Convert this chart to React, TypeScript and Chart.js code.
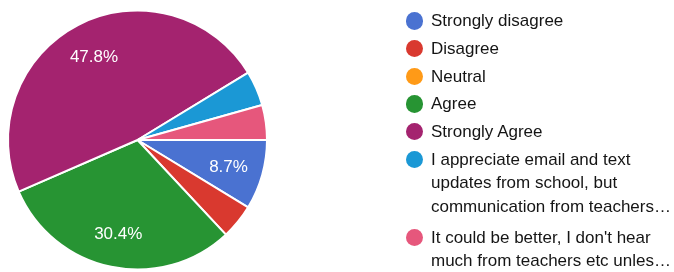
import React, { useEffect, useRef } from "react";
import { Chart, registerables } from "chart.js";

Chart.register(...registerables);

const categories: string[][] = [
  ["Strongly disagree"],
  ["Disagree"],
  ["Neutral"],
  ["Agree"],
  ["Strongly Agree"],
  ["I appreciate email and text", "updates from school, but", "communication from teachers…"],
  ["It could be better, I don't hear", "much from teachers etc unles…"],
];
const responses: number[] = [2, 1, 0, 7, 11, 1, 1];
const sliceColors: string[] = ["#4a72d1", "#d9392f", "#ff9a17", "#279433", "#a4236f", "#1b98d5", "#e6577c"];

const FONT = '"Liberation Sans", Arial, sans-serif';

const sliceLabelPlugin = {
  id: "sliceLabels",
  afterDatasetsDraw(chart: any) {
    const meta = chart.getDatasetMeta(0);
    const data = chart.data.datasets[0].data as number[];
    const total = data.reduce((a, b) => a + b, 0);
    const ctx = chart.ctx;
    ctx.save();
    ctx.fillStyle = "#ffffff";
    ctx.font = `17px ${FONT}`;
    ctx.textAlign = "center";
    ctx.textBaseline = "alphabetic";
    meta.data.forEach((arc: any, i: number) => {
      const frac = data[i] / total;
      if (frac < 0.05) return;
      const p = arc.getProps(["x", "y", "startAngle", "endAngle", "outerRadius"], true);
      const mid = (p.startAngle + p.endAngle) / 2;
      const r = p.outerRadius * 0.73;
      ctx.fillText((frac * 100).toFixed(1) + "%", p.x + Math.cos(mid) * r, p.y + Math.sin(mid) * r + 6);
    });
    ctx.restore();
  },
};

export default function App() {
  const canvasRef = useRef<HTMLCanvasElement | null>(null);

  useEffect(() => {
    if (!canvasRef.current) return;
    const chart = new Chart(canvasRef.current, {
      type: "pie",
      data: {
        labels: categories.map((c) => c.join(" ")),
        datasets: [
          {
            data: responses,
            backgroundColor: sliceColors,
            borderColor: "#ffffff",
            borderWidth: 2,
          },
        ],
      },
      options: {
        responsive: false,
        animation: false,
        rotation: 90,
        layout: { padding: { left: 7, top: 9, right: 406, bottom: 1 } },
        plugins: {
          legend: { display: false },
          tooltip: { enabled: false },
        },
      },
      plugins: [sliceLabelPlugin],
    });
    return () => chart.destroy();
  }, []);

  // legend layout
  const firstBaseline = 26.5;
  const rowStep = 27.7;
  const lineH = 23.5;
  const multiGap = 7.5;
  const items: { top: number; lines: string[]; color: string }[] = [];
  let baseline = firstBaseline;
  categories.forEach((lines, i) => {
    items.push({ top: baseline, lines, color: sliceColors[i] });
    if (lines.length > 1) baseline += (lines.length - 1) * lineH + lineH + multiGap;
    else baseline += rowStep;
  });

  return (
    <div style={{ position: "absolute", left: 0, top: 0, width: 674, height: 272, background: "#fff", overflow: "hidden" }}>
      <canvas ref={canvasRef} width={674} height={272} style={{ position: "absolute", left: 0, top: 0, width: 674, height: 272 }} />
      {items.map((it, i) => (
        <div key={i} style={{ position: "absolute", left: 0, top: 0 }}>
          <div
            style={{
              position: "absolute",
              left: 406,
              top: it.top - 5.5 - 8.7,
              width: 17.4,
              height: 17.4,
              borderRadius: "50%",
              background: it.color,
            }}
          />
          {it.lines.map((ln, j) => (
            <div
              key={j}
              style={{
                position: "absolute",
                left: 431,
                top: it.top + j * lineH - 17.4,
                font: `17px ${FONT}`,
                lineHeight: "23px",
                color: "#151515",
                whiteSpace: "nowrap",
              }}
            >
              {ln}
            </div>
          ))}
        </div>
      ))}
    </div>
  );
}
